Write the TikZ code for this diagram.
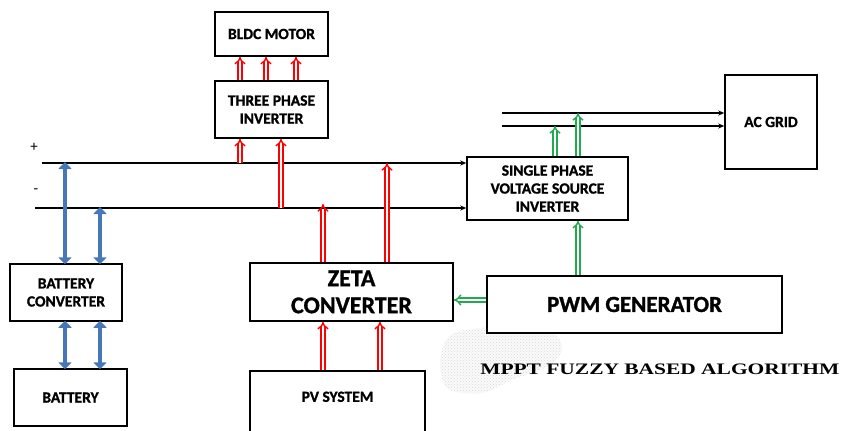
\documentclass[tikz,border=0pt]{standalone}
\usepackage{fontspec}
\setmainfont{Carlito}[BoldFeatures={FakeBold=1.2}]
\newfontfamily\timesf{Liberation Serif}
\usetikzlibrary{arrows.meta,patterns,calc}
\definecolor{bluearrow}{RGB}{70,120,185}
\definecolor{greenarrow}{RGB}{34,170,80}
\begin{document}
\begin{tikzpicture}[x=1pt,y=-1pt,
  blk/.style={draw=black, line width=1.5pt, fill=white, inner sep=2pt, align=center, font=\fontsize{15.5}{18}\selectfont\bfseries},
  bigblk/.style={blk, font=\fontsize{24}{27}\selectfont\bfseries},
  hol/.style={draw=#1, line width=1.4pt, double=white, double distance=2.3pt, -{Implies}},
  bluearr/.style={draw=bluearrow, line width=3.8pt, {Triangle[width=13pt,length=7pt]}-{Triangle[width=13pt,length=7pt]}, shorten <=-1pt, shorten >=-1pt},
  bus/.style={draw=black, line width=1.3pt},
  busarr/.style={bus, -{Stealth[length=6pt,width=5pt]}}
]
\useasboundingbox (0,0) rectangle (841,431);
\clip (0,0) rectangle (841,431);
% blob
\fill[gray!4] plot[smooth cycle] coordinates {(452,334) (500,327) (552,333) (562,350) (548,366) (512,380) (482,393) (448,389) (440,362)};
\fill[pattern=crosshatch dots, pattern color=gray!30] plot[smooth cycle] coordinates {(452,334) (500,327) (552,333) (562,350) (548,366) (512,380) (482,393) (448,389) (440,362)};
% blocks
\node[blk, minimum width=113pt, minimum height=44pt] (motor) at (271.5,34) {BLDC MOTOR};
\node[blk, minimum width=113pt, minimum height=57pt] (inv) at (271.5,109.5) {THREE PHASE\\INVERTER};
\node[blk, minimum width=112pt, minimum height=57pt] (bc) at (66,292.5) {BATTERY\\CONVERTER};
\node[blk, minimum width=113pt, minimum height=57pt] (bat) at (70.5,397.5) {BATTERY};
\node[bigblk, minimum width=203pt, minimum height=58pt] (zeta) at (351.5,292) {ZETA\\CONVERTER};
\node[blk, minimum width=175pt, minimum height=82pt, anchor=north, text depth=30pt] (pv) at (337.5,370) {PV SYSTEM};
\node[blk, minimum width=161pt, minimum height=63pt] (vsi) at (547.5,188.5) {SINGLE PHASE\\VOLTAGE SOURCE\\INVERTER};
\node[blk, minimum width=92pt, minimum height=94pt] (acg) at (771,122) {AC GRID};
\node[bigblk, minimum width=295pt, minimum height=57pt, font=\fontsize{23}{27}\selectfont\bfseries] (pwm) at (634.5,304.5) {PWM GENERATOR};
\node[font=\timesf\fontsize{16}{18}\selectfont\bfseries, anchor=west, xscale=1.34, transform shape, inner sep=0pt] (mppt) at (480,369) {MPPT FUZZY BASED ALGORITHM};
% bus lines
\coordinate (pstart) at (42,163);
\coordinate (mstart) at (35,208);
\node[font=\fontsize{15}{17}\selectfont] (plus) at (34,147) {+};
\node[font=\fontsize{15}{17}\selectfont] (minus) at (36,191) {-};
\draw[busarr] (pstart) -- (pstart -| vsi.west);
\draw[busarr] (mstart) -- (mstart -| vsi.west);
% x positions
\coordinate (x65) at (65,0);
\coordinate (x100) at (100,0);
\coordinate (x240) at (240,0);
\coordinate (x266) at (266,0);
\coordinate (x281) at (281,0);
\coordinate (x296) at (296,0);
\coordinate (x323) at (323,0);
\coordinate (x380) at (380,0);
\coordinate (x387) at (387,0);
\coordinate (x555) at (555,0);
\coordinate (x578) at (578,0);
% AC lines
\coordinate (ac1) at (502,113);
\coordinate (ac2) at (502,126);
\draw[busarr] (ac1) -- (ac1 -| acg.west);
\draw[busarr] (ac2) -- (ac2 -| acg.west);
% red arrows
\foreach \xx in {x240,x266,x296} \draw[hol=red] (inv.north -| \xx) -- (motor.south -| \xx);
\draw[hol=red] (pstart -| x240) -- (inv.south -| x240);
\draw[hol=red] (mstart -| x281) -- (inv.south -| x281);
\draw[hol=red] (zeta.north -| x323) -- ($(mstart -| x323)+(0,-4)$);
\draw[hol=red] (zeta.north -| x387) -- (pstart -| x387);
\draw[hol=red] (pv.north -| x323) -- (zeta.south -| x323);
\draw[hol=red] (pv.north -| x380) -- (zeta.south -| x380);
% blue arrows
\draw[bluearr] (pstart -| x65) -- (bc.north -| x65);
\draw[bluearr] (mstart -| x100) -- (bc.north -| x100);
\draw[bluearr] (bc.south -| x65) -- (bat.north -| x65);
\draw[bluearr] (bc.south -| x100) -- (bat.north -| x100);
% green arrows
\draw[hol=greenarrow] (vsi.north -| x555) -- (ac2 -| x555);
\draw[hol=greenarrow] (vsi.north -| x578) -- (ac1 -| x578);
\draw[hol=greenarrow] (pwm.north -| x578) -- (vsi.south -| x578);
\draw[hol=greenarrow] (pwm.west) ++(0,-4.5) coordinate (pw) (pw) -- (pw -| zeta.east);
\end{tikzpicture}
\end{document}
